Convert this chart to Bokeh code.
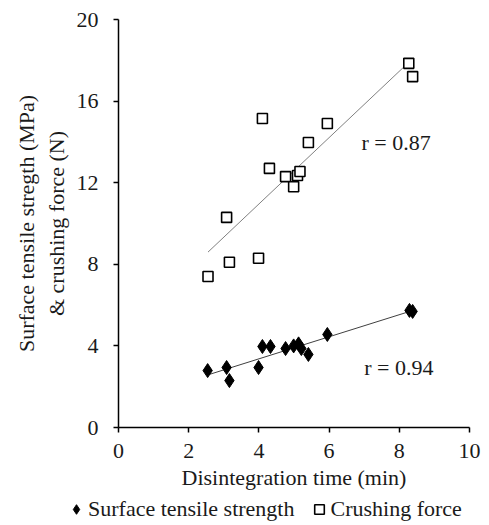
import numpy as np
from bokeh.plotting import figure
from bokeh.models import Label, Legend, LegendItem, FixedTicker, Range1d
from bokeh.embed import file_html
from bokeh.resources import INLINE

# Data
x_tensile = [2.54, 3.08, 3.16, 3.99, 4.10, 4.33, 4.76, 4.99, 5.13, 5.21, 5.41, 5.95, 8.29, 8.38]
y_tensile = [2.79, 2.94, 2.30, 2.94, 3.97, 3.97, 3.87, 4.00, 4.10, 3.87, 3.58, 4.56, 5.74, 5.69]
x_crush = [2.55, 3.08, 3.16, 3.99, 4.10, 4.30, 4.76, 4.99, 5.10, 5.17, 5.41, 5.95, 8.27, 8.38]
y_crush = [7.40, 10.30, 8.10, 8.30, 15.15, 12.70, 12.30, 11.80, 12.35, 12.55, 13.97, 14.90, 17.85, 17.20]
x_ticks = [0, 2, 4, 6, 8, 10]
y_ticks = [0, 4, 8, 12, 16, 20]
r_labels = ["r = 0.87", "r = 0.94"]
series_names = ["Surface tensile strength", "Crushing force"]

FONT = "Liberation Serif"
FS = "22px"
TXT = "#1a1a1a"

W, H = 488, 524
# plot area in pixels: x 0..10 -> 118..469, y 0..20 -> 427..19
px_x = (469 - 118) / 10.0
px_y = (427 - 19) / 20.0
xr = Range1d(-118 / px_x, (W - 118) / px_x)
yr = Range1d(-(H - 427) / px_y, 20 + 19 / px_y)

p = figure(width=W, height=H, x_range=xr, y_range=yr,
           output_backend="svg", toolbar_location=None, min_border=0)
p.outline_line_color = None
p.xgrid.grid_line_color = None
p.ygrid.grid_line_color = None

# trend lines (least squares from the data)
for xs, ys, col in [(x_crush, y_crush, "#808080"), (x_tensile, y_tensile, "#404040")]:
    m, b = np.polyfit(xs, ys, 1)
    xl = np.array([min(xs), max(xs)])
    p.line(xl, m * xl + b, line_color=col, line_width=1)

r_ts = p.scatter(x_tensile, y_tensile, marker="diamond", size=14, fill_color="black", line_color="black")
r_cf = p.scatter(x_crush, y_crush, marker="square", size=10, fill_color="white", line_color="black", line_width=1.6)

for ax in (p.xaxis[0], p.yaxis[0]):
    ax.fixed_location = 0
    ax.major_label_text_font = FONT
    ax.major_label_text_font_size = FS
    ax.major_label_text_color = TXT
    ax.axis_label_text_font = FONT
    ax.axis_label_text_font_size = FS
    ax.axis_label_text_font_style = "normal"
    ax.axis_label_text_color = TXT
    ax.axis_line_color = "black"
    ax.axis_line_width = 1.5
    ax.major_tick_line_color = "black"
    ax.major_tick_line_width = 1.5
    ax.major_tick_out = 5
    ax.major_tick_in = 0
    ax.minor_tick_line_color = None

p.xaxis.bounds = (0, 10)
p.yaxis.bounds = (0, 20)
p.xaxis.ticker = FixedTicker(ticks=x_ticks)
p.yaxis.ticker = FixedTicker(ticks=y_ticks)
p.xaxis.axis_label = "Disintegration time (min)"
p.yaxis.axis_label = "Surface tensile stregth (MPa)\n& crushing force (N)"
p.xaxis.major_label_standoff = 11
p.yaxis.major_label_standoff = 15
p.xaxis.axis_label_standoff = 4
p.yaxis.axis_label_standoff = 5

p.add_layout(Label(x=6.92, y=13.99, text=r_labels[0], text_font=FONT, text_font_size=FS,
                   text_baseline="alphabetic", text_color=TXT))
p.add_layout(Label(x=7.0, y=2.94, text=r_labels[1], text_font=FONT, text_font_size=FS,
                   text_baseline="alphabetic", text_color=TXT))

legend = Legend(items=[LegendItem(label=series_names[0], renderers=[r_ts]),
                       LegendItem(label=series_names[1], renderers=[r_cf])],
                orientation="horizontal", location=(64, 2),
                label_text_font=FONT, label_text_font_size=FS, label_text_color=TXT,
                border_line_color=None, background_fill_alpha=0,
                glyph_width=24, glyph_height=26, label_standoff=0, spacing=12, padding=0, margin=0)
p.add_layout(legend, "center")

open("out.html", "w").write(file_html(p, INLINE))
